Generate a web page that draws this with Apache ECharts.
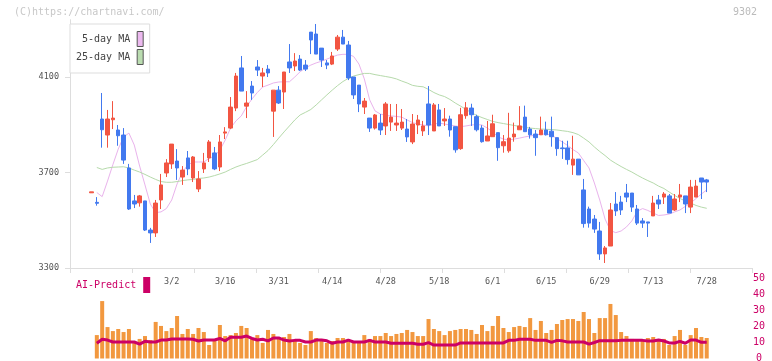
<!DOCTYPE html>
<html>
<head>
<meta charset="utf-8">
<script src="https://cdn.jsdelivr.net/npm/echarts@6/dist/echarts.min.js"></script>
<style>
  html, body { margin: 0; padding: 0; background: #fff; }
  #chart { width: 772px; height: 361px; }
</style>
</head>
<body>
<div id="chart"></div>
<script>
// trading days, Feb 7 - Jul 28
const dates = [
  '2/7','2/8','2/9','2/10','2/14','2/15','2/16','2/17','2/18','2/21','2/22','2/24','2/25','2/28',
  '3/1','3/2','3/3','3/4','3/7','3/8','3/9','3/10','3/11','3/14','3/15','3/16','3/17','3/18','3/22','3/23','3/24','3/25','3/28','3/29','3/30','3/31',
  '4/1','4/4','4/5','4/6','4/7','4/8','4/11','4/12','4/13','4/14','4/15','4/18','4/19','4/20','4/21','4/22','4/25','4/26','4/27','4/28',
  '5/2','5/6','5/9','5/10','5/11','5/12','5/13','5/16','5/17','5/18','5/19','5/20','5/23','5/24','5/25','5/26','5/27','5/30','5/31',
  '6/1','6/2','6/3','6/6','6/7','6/8','6/9','6/10','6/13','6/14','6/15','6/16','6/17','6/20','6/21','6/22','6/23','6/24','6/27','6/28','6/29','6/30',
  '7/1','7/4','7/5','7/6','7/7','7/8','7/11','7/12','7/13','7/14','7/15','7/19','7/20','7/21','7/22','7/25','7/26','7/27','7/28'
];
const tickLabels = ['3/2','3/16','3/31','4/14','4/28','5/18','6/1','6/15','6/29','7/13','7/28'];
const priceTicks = [3300, 3700, 4100];

const open = [
  3615,3575,3924,3857,3921,3878,3857,3719,3581,3573,
  3581,3459,3447,3585,3698,3736,3748,3681,3761,3677,
  3631,3715,3761,3782,3723,3865,3886,3970,4138,3978,
  4062,4142,4104,4133,3957,4045,4037,4163,4146,4175,
  4150,4288,4280,4221,4159,4154,4217,4267,4234,4100,
  4066,3974,3928,3886,3907,3895,3911,3899,3886,3882,
  3828,3899,3874,3987,3874,3962,3916,3924,3892,3800,
  3938,3970,3934,3886,3832,3850,3867,3812,3791,3849,
  3879,3932,3882,3861,3858,3878,3873,3846,3803,3803,
  3731,3756,3627,3547,3505,3455,3359,3392,3568,3576,
  3614,3614,3547,3497,3493,3518,3585,3597,3602,3543,
  3597,3602,3555,3597,3677,3669
];
const close = [
  3619,3571,3879,3924,3928,3854,3752,3547,3568,3602,
  3459,3447,3572,3648,3740,3819,3719,3710,3715,3765,
  3673,3740,3828,3715,3828,3870,3974,4104,4041,3991,
  4033,4129,4117,4117,4045,3991,4121,4138,4167,4129,
  4133,4255,4196,4171,4150,4188,4267,4238,4096,4025,
  3987,3999,3886,3941,3878,3987,3932,3907,3911,3849,
  3903,3920,3895,3899,3983,3895,3924,3878,3795,3942,
  3971,3942,3879,3829,3853,3904,3804,3829,3844,3861,
  3895,3871,3858,3846,3878,3858,3850,3800,3800,3754,
  3756,3690,3486,3488,3463,3359,3384,3543,3539,3543,
  3597,3555,3488,3488,3488,3572,3568,3610,3530,3589,
  3606,3568,3639,3643,3660,3660
];
const low = [
  3615,3561,3804,3804,3882,3812,3736,3543,3551,3557,
  3455,3405,3430,3547,3681,3715,3669,3648,3689,3660,
  3618,3698,3744,3710,3706,3840,3882,3957,4041,3928,
  4004,4104,4058,4100,3849,3987,3966,4117,4125,4125,
  4125,4196,4196,4142,4133,4150,4209,4238,4087,4008,
  3953,3945,3870,3880,3857,3857,3874,3874,3878,3828,
  3819,3861,3853,3857,3874,3895,3895,3850,3783,3795,
  3925,3895,3872,3825,3832,3850,3749,3783,3783,3829,
  3879,3871,3842,3770,3858,3855,3808,3770,3757,3733,
  3690,3690,3469,3469,3447,3334,3321,3392,3518,3522,
  3576,3535,3480,3468,3430,3518,3547,3568,3530,3539,
  3576,3530,3530,3597,3589,3618
];
const high = [
  3619,3597,4033,3962,3999,3899,3886,3736,3606,3606,
  3581,3468,3585,3694,3756,3819,3798,3727,3790,3769,
  3706,3782,3836,3807,3857,3890,4016,4117,4188,4041,
  4083,4171,4138,4150,4045,4062,4121,4238,4200,4192,
  4171,4288,4322,4221,4171,4205,4276,4297,4251,4100,
  4066,4012,3928,3945,3945,3995,3987,3987,3966,3924,
  3945,3941,3916,4062,3991,3987,3970,3938,3892,3971,
  3995,3988,3942,3898,3916,3942,3867,3857,3950,3909,
  3978,3980,3891,3878,3934,3913,3934,3846,3833,3833,
  3854,3756,3673,3557,3522,3493,3392,3572,3618,3602,
  3652,3614,3564,3509,3493,3602,3606,3618,3610,3610,
  3652,3602,3669,3669,3677,3673
];

const ma5 = [
  '-',3616,3599,3664,3733,3798,3849,3865,3815,3727,3648,
  3568,3532,3535,3549,3585,3652,3702,3731,3744,3744,
  3744,3759,3769,3794,3836,3886,3916,3937,3976,4008,
  4035,4058,4066,4075,4079,4080,4080,4100,4122,4138,
  4150,4159,4166,4175,4184,4192,4195,4195,4186,4154,
  4092,4004,3958,3945,3939,3937,3935,3932,3920,3909,
  3903,3899,3895,3903,3907,3903,3899,3895,3892,3895,
  3899,3901,3899,3886,3870,3849,3840,3836,3840,3844,
  3849,3853,3857,3861,3861,3857,3842,3828,3813,3796,
  3782,3750,3719,3656,3585,3505,3457,3448,3455,3472,
  3497,3537,3549,3541,3530,3520,3522,3526,3535,3543,
  3558,3572,3591,3610,3627
];
const ma25 = [
  '-',3721,3713,3719,3722,3723,3724,3719,3710,3702,3692,
  3681,3671,3662,3659,3659,3662,3666,3669,3671,3675,
  3677,3681,3687,3694,3702,3713,3723,3731,3738,3746,
  3754,3773,3792,3817,3844,3870,3895,3920,3941,3952,
  3964,3983,4004,4025,4045,4064,4081,4094,4104,4110,
  4115,4115,4110,4106,4102,4098,4092,4083,4075,4065,
  4061,4059,4048,4035,4025,4018,4006,3991,3978,3964,
  3951,3939,3930,3922,3914,3909,3905,3901,3897,3893,
  3889,3886,3884,3882,3881,3880,3878,3875,3872,3867,
  3859,3844,3828,3807,3788,3771,3752,3738,3725,3713,
  3702,3689,3677,3666,3656,3643,3633,3618,3604,3591,
  3581,3572,3562,3555,3550
];

const volume = [
  '-',14.6,35.8,19.6,17.1,18.4,16.5,18.4,10.1,12.2,14.0,
  11.5,22.8,20.3,17.1,19.0,26.5,15.3,18.4,15.3,19.0,
  16.5,8.4,10.9,20.9,14.0,14.6,15.9,20.3,19.0,12.2,
  14.6,9.7,17.8,15.3,12.8,13.4,15.3,11.5,9.7,8.4,
  17.1,12.8,11.5,9.7,10.9,12.8,12.8,11.5,10.9,10.9,
  14.6,12.2,14.0,14.0,15.9,14.0,15.3,15.9,17.8,16.5,
  14.0,14.0,24.6,18.4,17.1,14.6,17.1,17.8,18.4,18.4,
  17.8,15.3,20.9,17.1,20.3,26.5,19.0,16.5,19.6,20.3,
  19.6,25.2,17.8,23.4,15.9,17.8,21.5,24.0,24.6,24.6,
  23.4,29.0,24.6,15.9,25.2,25.2,34.0,27.1,16.5,14.0,
  12.2,10.9,10.9,12.8,13.4,10.9,12.2,8.4,14.0,17.8,
  8.4,14.6,19.0,13.4,12.8
];
const aiPredict = [
  '-',9.5,12.0,11.5,10.3,10.3,10.3,10.3,10.3,9.0,10.7,
  10.3,10.3,11.5,11.5,12.2,12.2,12.2,12.2,12.0,10.9,
  11.5,11.5,11.5,12.5,11.0,13.2,13.2,13.2,14.0,12.5,
  11.5,12.0,11.0,12.8,12.8,11.5,10.9,11.3,11.3,10.3,
  10.3,11.5,11.5,11.0,9.5,10.3,10.3,11.5,10.3,10.3,
  10.3,11.3,10.3,10.3,10.3,9.5,9.5,9.5,9.5,9.5,
  8.9,8.9,9.9,8.4,8.4,8.4,8.4,8.4,9.7,9.7,
  9.7,9.7,9.7,9.7,9.7,9.7,9.7,11.3,11.3,12.0,
  12.0,12.0,11.3,11.3,11.3,10.1,11.3,11.0,10.3,10.3,
  10.3,10.3,9.0,10.0,11.1,11.1,11.1,11.1,11.3,11.3,
  11.3,11.3,11.3,10.9,10.9,11.5,10.9,9.7,9.7,10.7,
  9.5,11.5,11.5,10.1,10.1
];

const MONO = "'DejaVu Sans Mono', monospace";
const UP = '#f25542';
const DOWN = '#4279ef';
const candles = open.map((o, i) => [o, close[i], low[i], high[i]]);

const chart = echarts.init(document.getElementById('chart'), null, { renderer: 'canvas' });

chart.setOption({
  animation: false,
  backgroundColor: '#fff',
  graphic: [
    { type: 'text', left: 14, top: 7, style: { text: '(C)https://chartnavi.com/', fill: '#c8c8c8', font: '10px ' + MONO } },
    { type: 'text', right: 15, top: 7, style: { text: '9302', fill: '#bbb', font: '10px ' + MONO } }
  ],
  legend: [
    {
      data: [
        { name: '5-day MA', itemStyle: { color: '#ecb9ef', borderColor: '#555', borderWidth: 1 } },
        { name: '25-day MA', itemStyle: { color: '#badcb0', borderColor: '#555', borderWidth: 1 } }
      ],
      orient: 'vertical', left: 70, top: 24, align: 'right', icon: 'rect',
      itemWidth: 6, itemHeight: 15, itemGap: 2, padding: [7, 6, 8, 6],
      borderColor: '#ddd', borderWidth: 1, backgroundColor: '#fff', selectedMode: false,
      textStyle: { fontFamily: MONO, fontSize: 10, color: '#444', padding: [0, 2, 0, 0] }
    },
    {
      data: [{ name: 'AI-Predict', itemStyle: { color: '#cc0066' } }],
      left: 76, top: 277, align: 'right', icon: 'rect', itemWidth: 7, itemHeight: 16,
      padding: 0, selectedMode: false,
      textStyle: { fontFamily: MONO, fontSize: 10, color: '#cc0066', padding: [0, 2, 0, 0] }
    }
  ],
  grid: [
    { left: 88.8, right: 62.6, top: 19.7, bottom: 93, outerBoundsMode: 'none' },
    { left: 88.8, right: 62.6, top: 278.3, bottom: 2.5, outerBoundsMode: 'none' },
    { left: 70, right: 20, top: 19.7, bottom: 93, outerBoundsMode: 'none' }
  ],
  xAxis: [
    {
      type: 'category', gridIndex: 0, data: dates, boundaryGap: true,
      axisLine: { show: false }, axisTick: { show: false }, splitLine: { show: false },
      axisLabel: {
        interval: (idx, val) => tickLabels.indexOf(val) >= 0,
        margin: 9, fontFamily: MONO, fontSize: 8.5, color: '#555'
      }
    },
    { type: 'category', gridIndex: 1, data: dates, boundaryGap: true, show: false },
    {
      type: 'value', gridIndex: 2, min: 0, max: 11, interval: 1,
      axisLine: { show: true, lineStyle: { color: '#ddd' } },
      axisTick: { show: true, length: 5, lineStyle: { color: '#ddd' } },
      axisLabel: { show: false }, splitLine: { show: false }
    }
  ],
  yAxis: [
    { type: 'value', gridIndex: 0, min: 3300, max: 4340, show: false, splitLine: { show: false } },
    {
      type: 'value', gridIndex: 1, min: 0, max: 50, interval: 10, position: 'right', offset: 42.6,
      axisLine: { show: false }, axisTick: { show: false }, splitLine: { show: false },
      axisLabel: { align: 'center', margin: 7, fontFamily: MONO, fontSize: 10, color: '#cc0066' }
    },
    {
      type: 'value', gridIndex: 2, min: 3300, max: 4340,
      axisLine: { show: true, lineStyle: { color: '#ddd' } },
      axisTick: { show: true, length: 5, customValues: priceTicks, lineStyle: { color: '#ddd' } },
      axisLabel: {
        customValues: priceTicks, formatter: (v) => String(v),
        margin: 11, fontFamily: MONO, fontSize: 8.5, color: '#555'
      },
      splitLine: { show: false }
    }
  ],
  series: [
    {
      name: '5-day MA', type: 'line', xAxisIndex: 0, yAxisIndex: 0, data: ma5,
      symbol: 'none', lineStyle: { color: '#e9b3ec', width: 1 }, itemStyle: { color: '#e9b3ec' }, z: 2
    },
    {
      name: '25-day MA', type: 'line', xAxisIndex: 0, yAxisIndex: 0, data: ma25,
      symbol: 'none', lineStyle: { color: '#b6daab', width: 1 }, itemStyle: { color: '#b6daab' }, z: 2
    },
    {
      name: 'Price', type: 'candlestick', xAxisIndex: 0, yAxisIndex: 0, data: candles,
      barWidth: 4, clip: false, z: 3,
      itemStyle: { color: UP, color0: DOWN, borderColor: UP, borderColor0: DOWN, borderWidth: 1 }
    },
    {
      name: 'Volume', type: 'bar', xAxisIndex: 1, yAxisIndex: 1, data: volume,
      barWidth: 4, itemStyle: { color: '#f2983f' }, z: 2
    },
    {
      name: 'AI-Predict', type: 'line', xAxisIndex: 1, yAxisIndex: 1, data: aiPredict,
      symbol: 'none', lineStyle: { color: '#cc0066', width: 3 }, itemStyle: { color: '#cc0066' }, z: 3
    }
  ]
});
</script>
</body>
</html>
